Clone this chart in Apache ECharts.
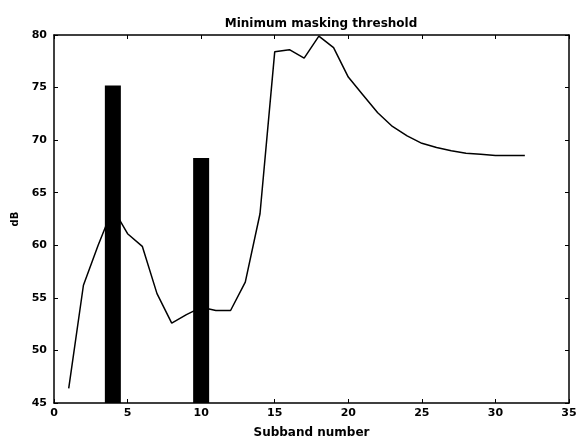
<!DOCTYPE html>
<html>
<head>
<meta charset="utf-8">
<script src="https://cdn.jsdelivr.net/npm/echarts@6/dist/echarts.min.js"></script>
<style>
  html, body { margin: 0; padding: 0; background: #fff; }
  #main { width: 576px; height: 441px; }
</style>
</head>
<body>
<div id="main"></div>
<script>
// subband index of the threshold curve
var subbands = [1, 2, 3, 4, 5, 6, 7, 8, 9, 10, 11, 12, 13, 14, 15, 16,
  17, 18, 19, 20, 21, 22, 23, 24, 25, 26, 27, 28, 29, 30, 31, 32];
// minimum masking threshold (dB)
var threshold = [46.4, 56.2, 60.0, 63.5, 61.1, 59.9, 55.4, 52.6, 53.4, 54.1, 53.8, 53.8,
  56.5, 63.0, 78.4, 78.6, 77.8, 79.9, 78.8, 76.0, 74.3, 72.6, 71.3, 70.4,
  69.7, 69.3, 69.0, 68.75, 68.65, 68.55, 68.55, 68.55];
// tonal components (subband, level dB)
var toneBands = [4, 10];
var toneLevels = [75.2, 68.3];

var xTicks = [0, 5, 10, 15, 20, 25, 30, 35];
var yTicks = [45, 50, 55, 60, 65, 70, 75, 80];

var lineData = subbands.map(function (s, i) { return [s, threshold[i]]; });
var barData = toneBands.map(function (b, i) { return [b, toneLevels[i]]; });

var font = 'DejaVu Sans';
var labelStyle = { color: '#000', fontFamily: font, fontWeight: 'bold', fontSize: 11 };

function axisBase(pos, ticks, showLabel) {
  return {
    type: 'value',
    position: pos,
    min: ticks[0],
    max: ticks[ticks.length - 1],
    interval: 5,
    splitLine: { show: false },
    axisLine: { show: true, onZero: false, lineStyle: { color: '#000', width: 1.5 } },
    axisTick: { show: true, inside: true, length: 4, lineStyle: { color: '#000', width: 1 } },
    axisLabel: Object.assign({ show: showLabel }, labelStyle)
  };
}

var myChart = echarts.init(document.getElementById('main'), null, { renderer: 'canvas' });

var xBottom = axisBase('bottom', xTicks, true);
xBottom.name = 'Subband number';
xBottom.nameLocation = 'middle';
xBottom.nameGap = 24;
xBottom.nameTextStyle = { color: '#000', fontFamily: font, fontWeight: 'bold', fontSize: 12 };
xBottom.axisLabel.margin = 5;

var yLeft = axisBase('left', yTicks, true);
yLeft.name = 'dB';
yLeft.nameLocation = 'middle';
yLeft.nameGap = 30;
yLeft.nameTextStyle = { color: '#000', fontFamily: font, fontWeight: 'bold', fontSize: 10 };
yLeft.axisLabel.margin = 7;

var option = {
  backgroundColor: '#fff',
  animation: false,
  title: {
    text: 'Minimum masking threshold',
    left: 316,
    textAlign: 'center',
    top: 13,
    textStyle: { color: '#000', fontFamily: font, fontWeight: 'bold', fontSize: 12 }
  },
  grid: { left: 54, right: 7, top: 35, bottom: 38, containLabel: false, outerBoundsMode: 'none' },
  xAxis: [xBottom, axisBase('top', xTicks, false)],
  yAxis: [yLeft, axisBase('right', yTicks, false)],
  series: [
    {
      name: 'tones',
      type: 'bar',
      xAxisIndex: 0,
      yAxisIndex: 0,
      data: barData,
      barWidth: 16,
      clip: true,
      itemStyle: { color: '#000' }
    },
    {
      name: 'threshold',
      type: 'line',
      xAxisIndex: 0,
      yAxisIndex: 0,
      data: lineData,
      symbol: 'none',
      lineStyle: { color: '#000', width: 1.5 }
    }
  ]
};
myChart.setOption(option, true);
</script>
</body>
</html>
